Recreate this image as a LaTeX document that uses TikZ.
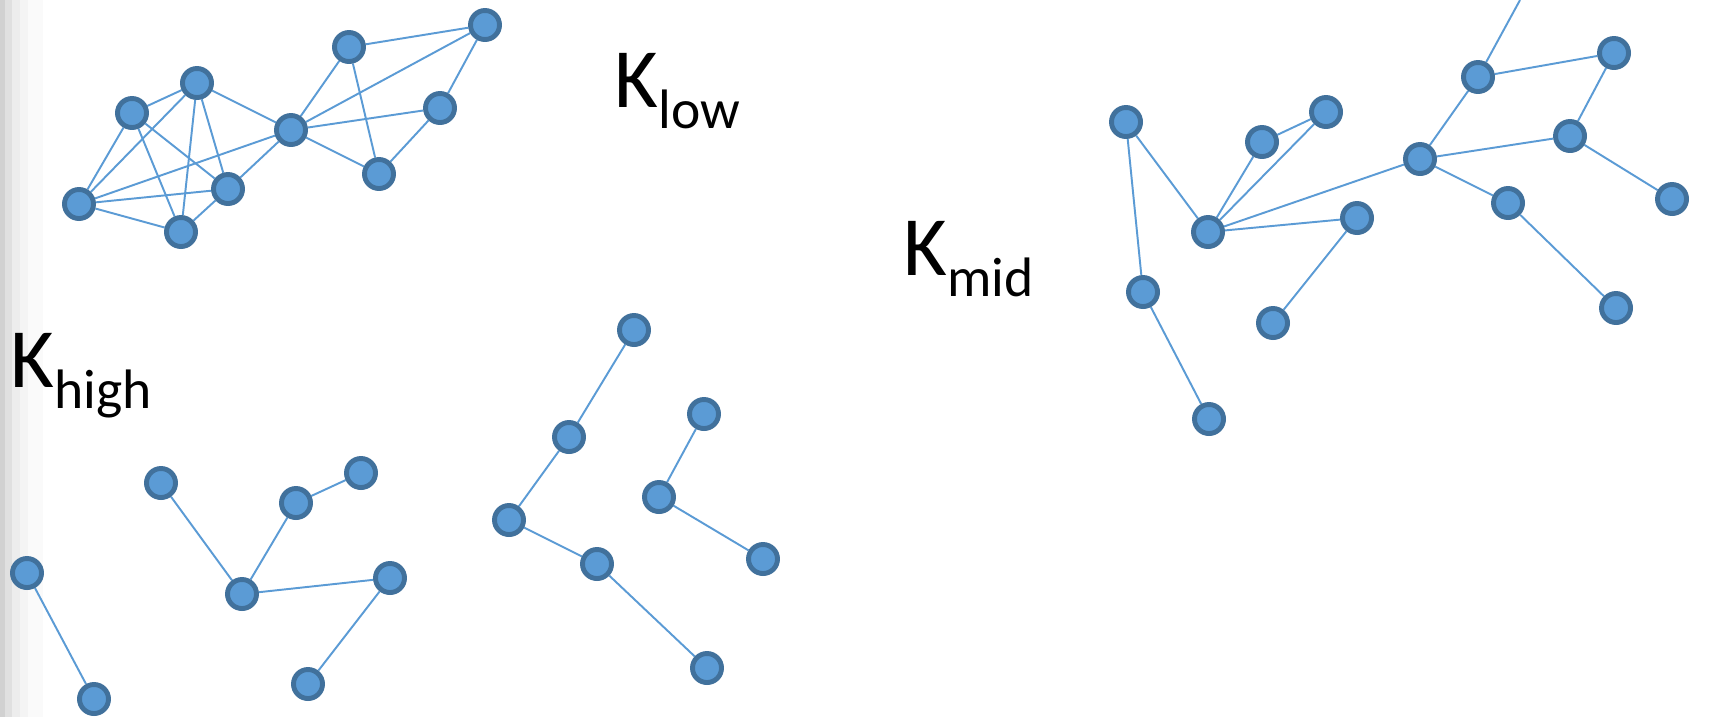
\documentclass[tikz,border=0pt]{standalone}
\usepackage{fontspec}
\setmainfont{Carlito}
\usepackage{xcolor}
\usepackage{tikz}
\usetikzlibrary{backgrounds}
\definecolor{gFill}{RGB}{91,155,213}
\definecolor{gRim}{RGB}{65,113,156}
\definecolor{gEdge}{RGB}{91,155,213}
\tikzset{
  vtx/.style={
    circle, draw=gRim, fill=gFill, line width=1.4pt,
    minimum size=0.29cm, inner sep=0pt
  },
  link/.style={draw=gEdge, line width=0.55pt},
  klabel/.style={anchor=base west, inner sep=0pt, font=\fontsize{24}{28}\selectfont}
}
\newcommand{\ksub}[1]{\raisebox{-6pt}{\fontsize{15.8}{18}\selectfont #1}}

\begin{document}
\begin{tikzpicture}[x=0.01cm, y=-0.01cm]
\useasboundingbox (0,0) rectangle (1725,717);
% K low
\node[vtx] (la) at (132,113) {};
\node[vtx] (lb) at (197,83) {};
\node[vtx] (lc) at (79,204) {};
\node[vtx] (ld) at (181,232) {};
\node[vtx] (le) at (228,189) {};
\node[vtx] (lf) at (291,130) {};
\node[vtx] (lg) at (349,47) {};
\node[vtx] (lh) at (485,25) {};
\node[vtx] (li) at (440,108) {};
\node[vtx] (lj) at (379,174) {};
% K mid
\node[vtx] (m1) at (1126,122) {};
\node[vtx] (m2) at (1262,142) {};
\node[vtx] (m3) at (1326,112) {};
\node[vtx] (m4) at (1208,232) {};
\node[vtx] (m5) at (1357,218) {};
\node[vtx] (m6) at (1143,292) {};
\node[vtx] (m7) at (1273,323) {};
\node[vtx] (m8) at (1209,419) {};
\node[vtx] (m9) at (1420,159) {};
\node[vtx] (m10) at (1478,77) {};
\node[vtx] (m11) at (1614,53) {};
\node[vtx] (m12) at (1570,136) {};
\node[vtx] (m13) at (1508,203) {};
\node[vtx] (m14) at (1672,199) {};
\node[vtx] (m15) at (1616,308) {};
\coordinate (mtop) at (1520,0);
% K high
\node[vtx] (h1) at (27,573) {};
\node[vtx] (h2) at (94,699) {};
\node[vtx] (h3) at (161,483) {};
\node[vtx] (h4) at (242,594) {};
\node[vtx] (h5) at (296,503) {};
\node[vtx] (h6) at (361,473) {};
\node[vtx] (h7) at (390,578) {};
\node[vtx] (h8) at (308,684) {};
\node[vtx] (h9) at (634,330) {};
\node[vtx] (h10) at (569,437) {};
\node[vtx] (h11) at (509,520) {};
\node[vtx] (h12) at (597,564) {};
\node[vtx] (h13) at (707,668) {};
\node[vtx] (h14) at (704,414) {};
\node[vtx] (h15) at (659,497) {};
\node[vtx] (h16) at (763,559) {};
% labels
\node[klabel] (klow) at (614,107) {K\ksub{low}};
\node[klabel] (kmid) at (903,275) {K\ksub{mid}};
\node[klabel] (khigh) at (10,387) {K\ksub{high}};
\begin{scope}[on background layer]
\fill[white] (0,0) rectangle (1725,717);
\foreach \xa/\xb/\g in {0/5/18,5/12/12,12/20/7,20/28/4.5,28/43/2}
  \fill[black!\g] (\xa,0) rectangle (\xb,717);
\foreach \a/\b in {la/lb,la/lc,la/ld,la/le,lb/lc,lb/ld,lb/le,lb/lf,lc/lf,lc/le,lc/ld,ld/le,le/lf,lf/lg,lf/lh,lf/li,lf/lj,lg/lh,lg/lj,lh/li,li/lj}
  \draw[link] (\a) -- (\b);
\foreach \a/\b in {m1/m4,m1/m6,m6/m8,m2/m3,m2/m4,m3/m4,m4/m9,m4/m5,m5/m7,m9/m10,m9/m12,m9/m13,m10/m11,m11/m12,m12/m14,m13/m15}
  \draw[link] (\a) -- (\b);
\draw[link] (m10) -- (mtop);
\foreach \a/\b in {h1/h2,h3/h4,h4/h5,h5/h6,h4/h7,h7/h8,h9/h10,h10/h11,h11/h12,h12/h13,h14/h15,h15/h16}
  \draw[link] (\a) -- (\b);
\end{scope}
\end{tikzpicture}
\end{document}
